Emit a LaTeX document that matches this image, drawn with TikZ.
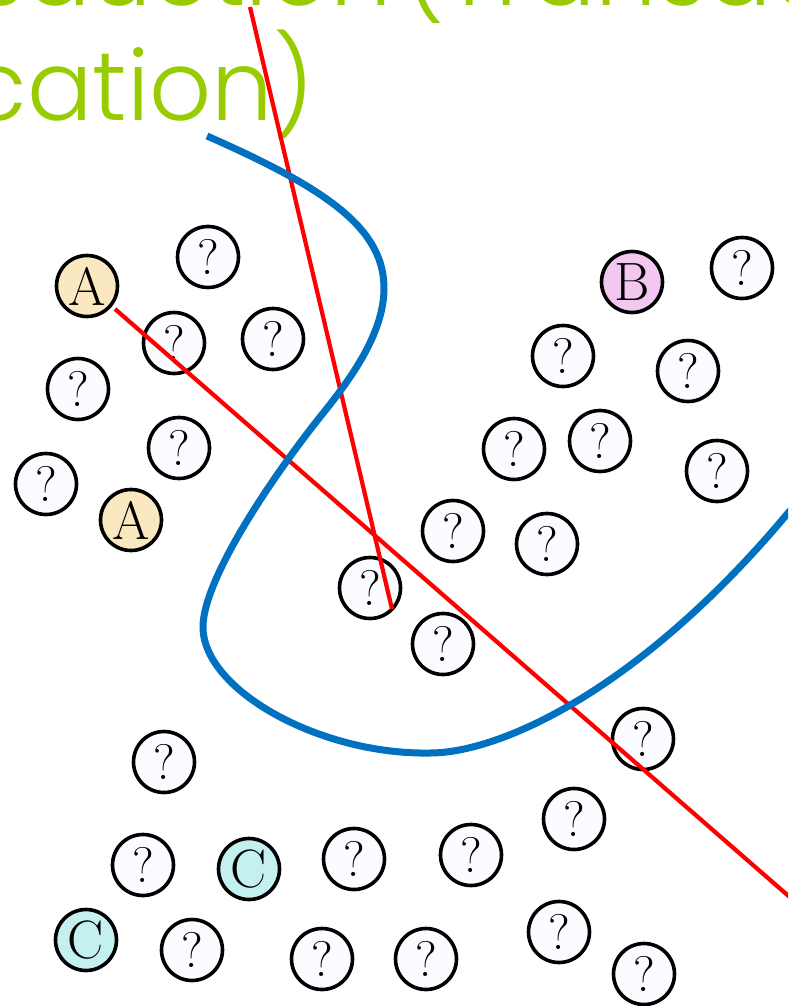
\documentclass[tikz,border=0pt]{standalone}
\usepackage{fontspec}
\newfontfamily\titlefont{Poppins Light}
\definecolor{titlegreen}{RGB}{153,204,0}
\definecolor{curveblue}{RGB}{0,112,192}
\definecolor{sepred}{RGB}{255,0,0}
\definecolor{afill}{RGB}{250,232,192}
\definecolor{bfill}{RGB}{242,200,240}
\definecolor{cfill}{RGB}{196,240,240}
\definecolor{qfill}{RGB}{250,252,255}
\begin{document}
\begin{tikzpicture}[x=1pt,y=-1pt,
  pt/.style={circle,draw=black,line width=3.6pt,fill=qfill,minimum size=61pt,inner sep=0pt,
    font=\fontsize{50}{50}\selectfont},
  ptA/.style={pt,fill=afill,font=\fontsize{54}{54}\selectfont},
  ptB/.style={pt,fill=bfill,font=\fontsize{54}{54}\selectfont},
  ptC/.style={pt,fill=cfill,font=\fontsize{54}{54}\selectfont},
  ttl/.style={inner sep=0pt,text=titlegreen,font=\titlefont\fontsize{97}{97}\selectfont},
  sep/.style={draw=sepred,line width=4.2pt},
  bnd/.style={draw=curveblue,line width=7pt}]
\useasboundingbox (0,0) rectangle (788,1006);
\clip (0,0) rectangle (788,1006);
\fill[white] (0,0) rectangle (788,1006);
% title
\node[ttl,anchor=base east] (t1a) at (392,6) {Transduction};
\node[ttl,anchor=base west] (t1b) at (404,6) {(Transductive};
\node[ttl,anchor=base east] (t2) at (314,121) {classification)};
% top-left group
\node[ptA] (a1) at (87,286) {A};
\node[pt] (q1) at (208,257) {?};
\node[pt] (q2) at (174,343) {?};
\node[pt] (q3) at (273,339) {?};
\node[pt] (q4) at (78,389) {?};
\node[pt] (q5) at (179,448) {?};
\node[pt] (q6) at (46,484) {?};
\node[ptA] (a2) at (131,520) {A};
% top-right group
\node[ptB] (b1) at (632,282) {B};
\node[pt] (q7) at (742,268) {?};
\node[pt] (q8) at (563,356) {?};
\node[pt] (q9) at (688,371) {?};
\node[pt] (q10) at (514,449) {?};
\node[pt] (q11) at (600,441) {?};
\node[pt] (q12) at (717,471) {?};
% middle
\node[pt] (q13) at (453,531) {?};
\node[pt] (q14) at (547,544) {?};
\node[pt] (q15) at (370,588) {?};
\node[pt] (q16) at (443,644) {?};
\node[pt] (q17) at (643,739) {?};
% bottom group
\node[pt] (q18) at (164,762) {?};
\node[pt] (q19) at (143,865) {?};
\node[ptC] (c1) at (249,869) {C};
\node[pt] (q20) at (354,859) {?};
\node[pt] (q21) at (471,855) {?};
\node[pt] (q22) at (574,819) {?};
\node[ptC] (c2) at (86,940) {C};
\node[pt] (q23) at (192,950) {?};
\node[pt] (q24) at (322,959) {?};
\node[pt] (q25) at (426,959) {?};
\node[pt] (q26) at (559,932) {?};
\node[pt] (q27) at (644,974) {?};
% red separators
\coordinate (r1s) at (250,7);
\coordinate (r1e) at (392,609);
\coordinate (r2s) at (115,309);
\coordinate (r2e) at (800,906);
\draw[sep] (r1s) -- (r1e);
\draw[sep] (r2s) -- (r2e);
% blue boundary
\coordinate (b0) at (207,136);
\coordinate (b1) at (384,290);
\coordinate (b2) at (320,417);
\coordinate (b3) at (203,627);
\coordinate (b4) at (430,753);
\coordinate (b5) at (788,513);
\coordinate (b6) at (812,485);
\draw[bnd] (b0) .. controls (330,190) and (385,230) .. (b1)
  .. controls (383,335) and (350,380) .. (b2)
  .. controls (270,480) and (203,580) .. (b3)
  .. controls (203,690) and (320,755) .. (b4)
  .. controls (500,753) and (640,690) .. (b5) -- (b6);
\end{tikzpicture}
\end{document}
